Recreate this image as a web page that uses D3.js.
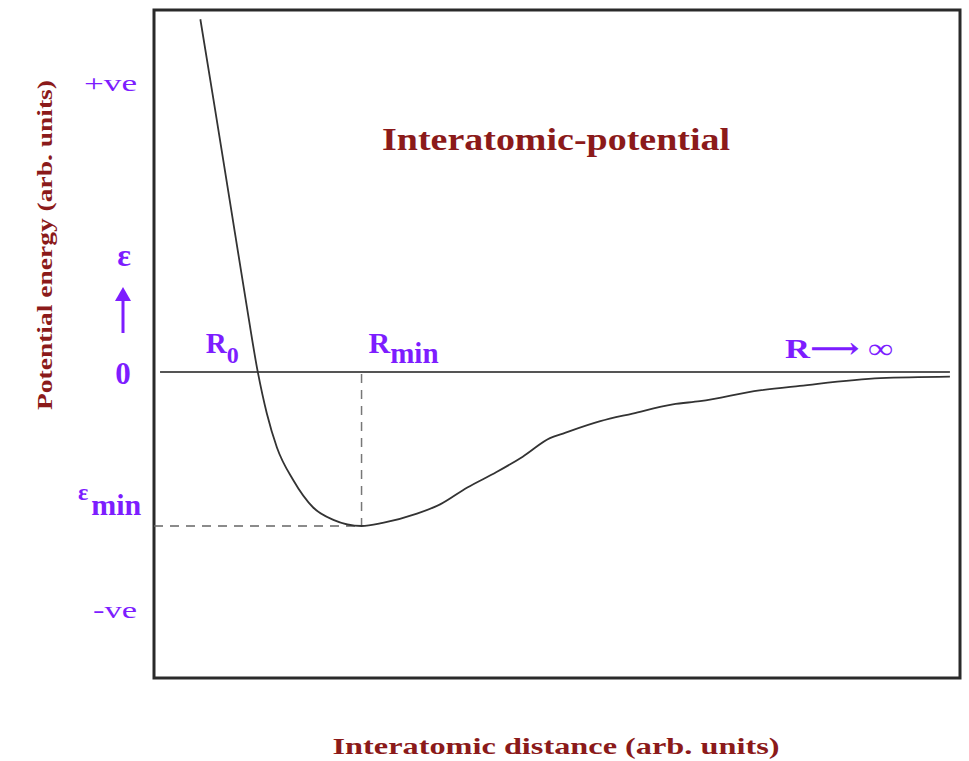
<!DOCTYPE html>
<html>
<head>
<meta charset="utf-8">
<script src="https://cdn.jsdelivr.net/npm/d3@7"></script>
<style>
  body { margin: 0; background: #fff; }
  text { font-family: "Liberation Serif", "DejaVu Serif", serif; font-weight: bold; }
  .purple { fill: #7d1dff; }
  .red { fill: #8b1a1a; }
</style>
</head>
<body>
<svg id="myGraph" width="969" height="761"></svg>
<script>
// interatomic distance (arb. units) and potential energy (arb. units, eps_min = -1)
var distance = [0.46, 0.59, 0.75, 0.91, 1.03, 1.12, 1.22, 1.38, 1.58, 1.78, 2.06, 2.27, 2.61, 2.84,
                3.11, 3.40, 3.66, 3.93, 4.06, 4.43, 4.75, 5.15, 5.42, 6.01, 6.41, 7.21, 7.90]
var energy = [2.29, 1.77, 1.12, 0.47, 0, -0.27, -0.49, -0.70, -0.88, -0.96, -1.0, -0.98, -0.92, -0.86,
              -0.75, -0.65, -0.55, -0.43, -0.40, -0.32, -0.27, -0.21, -0.19, -0.12, -0.09, -0.04, -0.03]

// marked points
var R0 = 1.03
var Rmin = 2.06
var Emin = -1.0
var zeroLineX = [0.06, 7.90]

// y tick labels
var tickPlus = 1.86
var tickMinus = -1.56

var svg = d3.select("#myGraph")

var xScale = d3.scaleLinear().domain([0, 8]).range([154, 960])
var yScale = d3.scaleLinear().domain([-2, 2.35]).range([680, 10])

// frame
svg.append("rect")
  .attr("x", 154).attr("y", 10)
  .attr("width", 806).attr("height", 668)
  .attr("fill", "none")
  .attr("stroke", "#2a2a2a")
  .attr("stroke-width", 3)

// zero line
svg.append("line")
  .attr("x1", xScale(zeroLineX[0])).attr("x2", xScale(zeroLineX[1]))
  .attr("y1", yScale(0)).attr("y2", yScale(0))
  .attr("stroke", "#555").attr("stroke-width", 2)

// dashed guides to the minimum
svg.append("line")
  .attr("x1", xScale(0)).attr("x2", xScale(Rmin))
  .attr("y1", yScale(Emin)).attr("y2", yScale(Emin))
  .attr("stroke", "#666").attr("stroke-width", 1.5)
  .attr("stroke-dasharray", "9,7")
svg.append("line")
  .attr("x1", xScale(Rmin)).attr("x2", xScale(Rmin))
  .attr("y1", yScale(0) + 2).attr("y2", yScale(Emin))
  .attr("stroke", "#777").attr("stroke-width", 1.5)
  .attr("stroke-dasharray", "9,7")

// potential curve
var line = d3.line()
  .x(function(d, i) { return xScale(distance[i]) })
  .y(function(d) { return yScale(d) })
  .curve(d3.curveMonotoneX)

svg.append("path")
  .datum(energy)
  .attr("d", line)
  .attr("fill", "none")
  .attr("stroke", "#333")
  .attr("stroke-width", 1.8)

// title
svg.append("text")
  .attr("class", "red")
  .attr("x", 556).attr("y", 150)
  .attr("text-anchor", "middle")
  .attr("textLength", 348).attr("lengthAdjust", "spacingAndGlyphs")
  .style("font-size", "32px")
  .text("Interatomic-potential")

// axis titles
svg.append("text")
  .attr("class", "red")
  .attr("x", 556).attr("y", 754)
  .attr("text-anchor", "middle")
  .attr("textLength", 447).attr("lengthAdjust", "spacingAndGlyphs")
  .style("font-size", "24px")
  .text("Interatomic distance (arb. units)")

svg.append("text")
  .attr("class", "red")
  .attr("transform", "translate(52,245) rotate(-90)")
  .attr("text-anchor", "middle")
  .attr("textLength", 330).attr("lengthAdjust", "spacingAndGlyphs")
  .style("font-size", "21px")
  .text("Potential energy (arb. units)")

// y tick labels
svg.append("text").attr("class", "purple")
  .attr("x", 137).attr("y", yScale(tickPlus) + 6)
  .attr("text-anchor", "end").style("font-size", "23px").style("font-weight", "normal")
  .attr("textLength", 53).attr("lengthAdjust", "spacingAndGlyphs")
  .text("+ve")
svg.append("text").attr("class", "purple")
  .attr("x", 137).attr("y", yScale(tickMinus) + 6)
  .attr("text-anchor", "end").style("font-size", "23px").style("font-weight", "normal")
  .attr("textLength", 44).attr("lengthAdjust", "spacingAndGlyphs")
  .text("-ve")
svg.append("text").attr("class", "purple")
  .attr("x", 123).attr("y", yScale(0) + 12)
  .attr("text-anchor", "middle").style("font-size", "31px")
  .text("0")

// energy symbol with arrow
svg.append("text").attr("class", "purple")
  .attr("x", 124).attr("y", 266)
  .attr("text-anchor", "middle").style("font-size", "32px")
  .text("ε")
svg.append("line")
  .attr("x1", 123).attr("x2", 123)
  .attr("y1", 333).attr("y2", 298)
  .attr("stroke", "#7d1dff").attr("stroke-width", 3)
svg.append("path")
  .attr("d", "M115,301 L123,287 L131,301 Z")
  .attr("fill", "#7d1dff")

// eps_min label
var emin = svg.append("text").attr("class", "purple")
  .attr("x", 78).attr("y", yScale(Emin) - 26)
  .style("font-size", "24px")
emin.append("tspan").text("ε")
emin.append("tspan").attr("dx", 3).attr("dy", 15).style("font-size", "30px").text("min")

// R labels
var r0 = svg.append("text").attr("class", "purple")
  .attr("x", xScale(R0) - 52).attr("y", yScale(0) - 19)
  .style("font-size", "29px")
r0.append("tspan").text("R")
r0.append("tspan").attr("dy", 10).style("font-size", "24px").text("0")

var rm = svg.append("text").attr("class", "purple")
  .attr("x", xScale(Rmin) + 7).attr("y", yScale(0) - 19)
  .style("font-size", "30px")
rm.append("tspan").text("R")
rm.append("tspan").attr("dy", 10).style("font-size", "29px").text("min")

svg.append("text").attr("class", "purple")
  .attr("x", 785).attr("y", yScale(0) - 14)
  .style("font-size", "28px")
  .attr("textLength", 108).attr("lengthAdjust", "spacingAndGlyphs")
  .text("R⟶ ∞")
</script>
</body>
</html>
